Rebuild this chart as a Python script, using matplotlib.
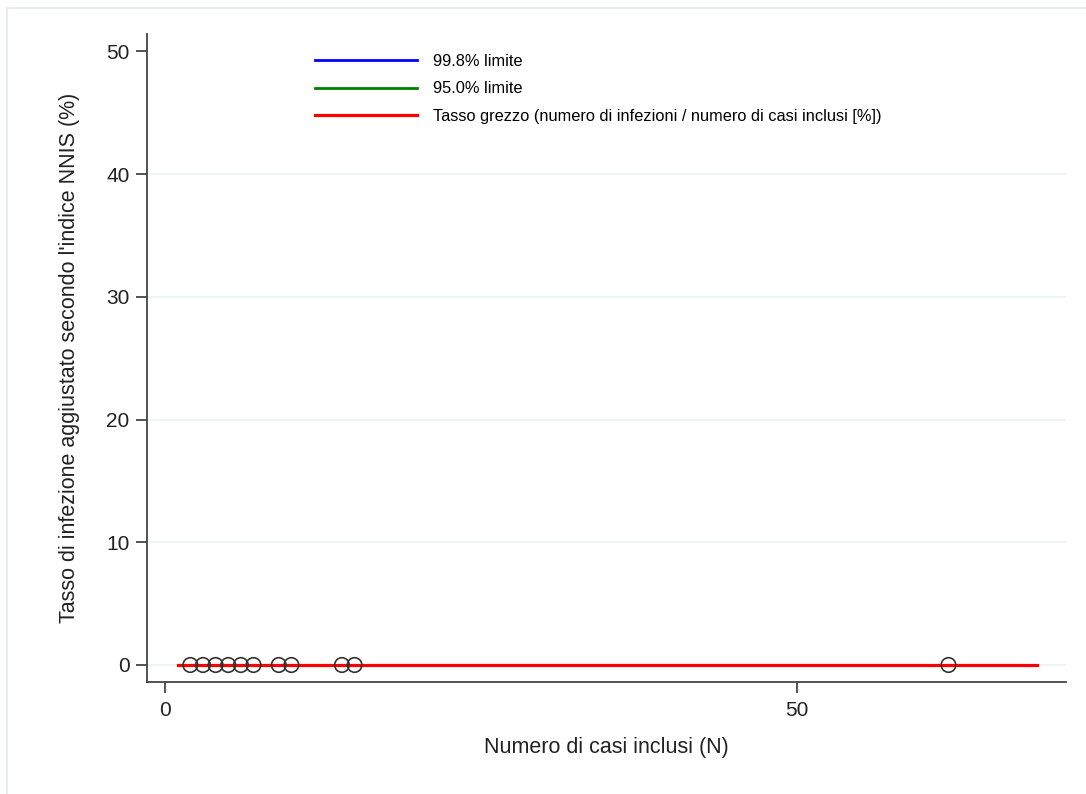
import numpy as np
import matplotlib.pyplot as plt
from matplotlib.patches import Rectangle

plt.rcParams['font.family'] = ['Liberation Sans', 'DejaVu Sans']

# observed cases (N) and adjusted infection rate (%)
casi = [2, 3, 4, 5, 6, 7, 9, 10, 14, 15, 62]
tasso = [0, 0, 0, 0, 0, 0, 0, 0, 0, 0, 0]

# crude rate line
grezzo_x = [1, 69]
grezzo_y = [0, 0]

# control limits (nothing drawn in the reference, only in the legend)
lim998_x, lim998_y = [], []
lim950_x, lim950_y = [], []

xticks = [0, 50]
yticks = [0, 10, 20, 30, 40, 50]

fig = plt.figure(figsize=(10.86, 7.94), dpi=100)
fig.patches.append(Rectangle((0.0065, -0.05), 1.1, 1.04, transform=fig.transFigure,
                             fill=False, edgecolor='#e8eef0', linewidth=1.5))
ax = fig.add_axes([0.1358, 0.141, 0.9816 - 0.1358, 0.957 - 0.141])

for y in yticks[:-1]:
    ax.axhline(y, color='#eaf2f3', linewidth=1.2, zorder=0)

l1, = ax.plot(lim998_x, lim998_y, color='#0000ff', linewidth=2, label='99.8% limite')
l2, = ax.plot(lim950_x, lim950_y, color='#008000', linewidth=2, label='95.0% limite')
l3, = ax.plot(grezzo_x, grezzo_y, color='#ff0000', linewidth=2.3, zorder=2,
              label='Tasso grezzo (numero di infezioni / numero di casi inclusi [%])')
ax.scatter(casi, tasso, s=110, facecolors='none', edgecolors='#333333', linewidths=1.2, zorder=3)

ax.set_xlim(-1.39, 71.3)
ax.set_ylim(-1.39, 51.4)
ax.set_xticks(xticks)
ax.set_yticks(yticks)
ax.spines['top'].set_visible(False)
ax.spines['right'].set_visible(False)
for s in ['left', 'bottom']:
    ax.spines[s].set_color('#444444')
    ax.spines[s].set_linewidth(1.3)
ax.tick_params(axis='both', length=8, width=1.3, color='#444444', labelsize=15, labelcolor='#222222')
ax.tick_params(axis='y', pad=5)
ax.tick_params(axis='x', pad=6)

ax.set_xlabel('Numero di casi inclusi (N)', fontsize=15.5, color='#222222', labelpad=12)
ax.set_ylabel("Tasso di infezione aggiustato secondo l'indice NNIS (%)", fontsize=15.5,
              color='#222222')
ax.yaxis.set_label_coords(-0.0735, 0.5)

leg = fig.legend(handles=[l1, l2, l3], loc='upper left', bbox_to_anchor=(0.29, 0.932),
                 frameon=False, fontsize=11.8, handlelength=6.2, handletextpad=1.0,
                 labelspacing=0.76, borderpad=0, borderaxespad=0)

fig.savefig('out.png', dpi=100, facecolor='white')
